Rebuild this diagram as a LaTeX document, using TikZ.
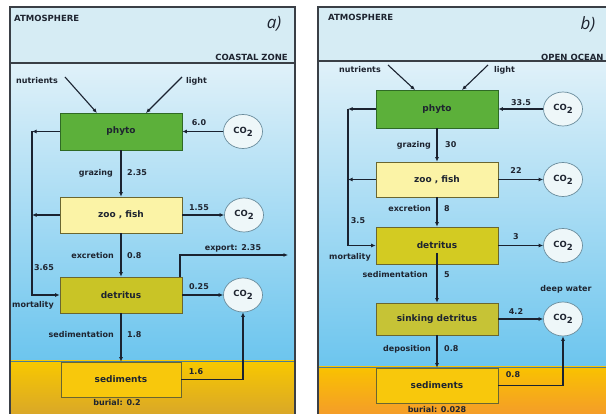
\documentclass[tikz,border=0pt]{standalone}
\usepackage{fontspec}
\setmainfont{DejaVu Sans}
\newfontfamily\panelfont{Open Sans}
\usetikzlibrary{arrows.meta,shapes.geometric}
\definecolor{atm}{HTML}{D6ECF4}
\definecolor{watertop}{HTML}{E0F1F9}
\definecolor{watermid}{HTML}{ACDDF4}
\definecolor{waterbot}{HTML}{6CC5EE}
\definecolor{sedatop}{HTML}{F8C800}
\definecolor{sedabot}{HTML}{D6A42C}
\definecolor{sedbtop}{HTML}{F9C200}
\definecolor{sedbbot}{HTML}{F4982E}
\definecolor{framec}{HTML}{3A3F46}
\definecolor{txt}{HTML}{1E2430}
\definecolor{arr}{HTML}{1A2230}
\definecolor{phyc}{HTML}{5CB03A}
\definecolor{phyedge}{HTML}{2F6A25}
\definecolor{zooc}{HTML}{FBF3A6}
\definecolor{detc}{HTML}{C9C426}
\definecolor{detbc}{HTML}{D3CB22}
\definecolor{sinkc}{HTML}{C6C336}
\definecolor{sedc}{HTML}{F8C80C}
\definecolor{boxedge}{HTML}{6A6630}
\definecolor{co2fill}{HTML}{EEF7F9}
\definecolor{co2edge}{HTML}{6A8C9C}
\definecolor{seaedge}{HTML}{4C7E94}
\tikzset{
  box/.style={draw=boxedge, line width=0.6pt, minimum width=122pt, minimum height=36pt,
    inner sep=0pt, font=\fontsize{9}{10}\selectfont\bfseries, text=txt},
  co2/.style={ellipse, draw=co2edge, fill=co2fill, line width=0.7pt, minimum width=39pt,
    minimum height=34pt, inner sep=0pt, font=\fontsize{8.5}{9}\selectfont\bfseries, text=txt},
  flow/.style={draw=arr, line width=1.1pt, -{Latex[length=4.5pt,width=4pt]}},
  lbl/.style={font=\fontsize{8}{9}\selectfont\bfseries, text=txt, inner sep=0pt},
  head/.style={font=\fontsize{8.5}{9}\selectfont\bfseries, text=txt, inner sep=0pt},
  panel/.style={font=\panelfont\itshape\fontsize{17}{18}\selectfont, text=txt, inner sep=0pt},
  frame/.style={draw=framec, line width=1.2pt}
}
\newcommand{\cotwo}{CO\raisebox{-3pt}{2}}
\begin{document}
\begin{tikzpicture}[x=1pt,y=-1pt]
\useasboundingbox (0,0) rectangle (606,414);
\clip (0,0) rectangle (606,414);
\fill[white] (0,0) rectangle (606,414);
% ---------------- panel a background
\fill[atm] (10,7) rectangle (295,63);
\shade[top color=watertop, middle color=watermid, bottom color=waterbot] (10,63) rectangle (295,361);
\shade[top color=sedatop, bottom color=sedabot] (10,361) rectangle (295,420);
\draw[seaedge, line width=0.6pt] (10,361) -- (295,361);
\draw[frame] (10,63) -- (295,63);
\draw[frame] (10,420) -- (10,7) -- (295,7) -- (295,420);
% ---------------- panel b background
\fill[atm] (318,7) rectangle (620,61);
\shade[top color=watertop, middle color=watermid, bottom color=waterbot] (318,61) rectangle (620,367);
\shade[top color=sedbtop, bottom color=sedbbot] (318,367) rectangle (620,420);
\draw[seaedge, line width=0.6pt] (318,367) -- (620,367);
\draw[frame] (318,61) -- (620,61);
\draw[frame] (318,420) -- (318,7) -- (620,7);
% ---------------- headings
\node[head, anchor=west] (atmA) at (14,18) {ATMOSPHERE};
\node[panel] (pa) at (274,24) {a)};
\node[head, anchor=east] (czA) at (288,57) {COASTAL ZONE};
\node[head, anchor=west] (atmB) at (328,17) {ATMOSPHERE};
\node[panel] (pb) at (588,24) {b)};
\node[head, anchor=west] (ooB) at (541,57) {OPEN OCEAN};
% ================= panel a nodes
\node[box, fill=phyc, draw=phyedge, minimum height=37pt] (phyA) at (121,131.5) {phyto};
\node[box, fill=zooc] (zooA) at (121,215) {zoo , fish};
\node[box, fill=detc] (detA) at (121,295) {detritus};
\node[box, fill=sedc, minimum width=120pt, minimum height=35pt] (sedA) at (121,379.5) {sediments};
\node[co2] (c1a) at (243,131.5) {\cotwo};
\node[co2] (c2a) at (244,215) {\cotwo};
\node[co2] (c3a) at (243,295) {\cotwo};
% inputs
\node[lbl, anchor=east] (nutA) at (58,81) {nutrients};
\node[lbl, anchor=west] (ligA) at (186,81) {light};
\coordinate (nA0) at (65,77); \coordinate (nA1) at (97,113);
\coordinate (lA0) at (182,77); \coordinate (lA1) at (146,113);
\draw[flow] (nA0) -- (nA1);
\draw[flow] (lA0) -- (lA1);
% flows
\draw[flow] (c1a) -- (phyA);
\node[lbl] (v60) at (199,123) {6.0};
\draw[flow] (phyA) -- (zooA);
\node[lbl, anchor=east] (grA) at (113,173) {grazing};
\node[lbl, anchor=west] (grAv) at (127,173) {2.35};
\draw[flow] (zooA) -- (c2a);
\node[lbl] (v155) at (199,208) {1.55};
\draw[flow] (zooA) -- (detA);
\node[lbl, anchor=east] (exA) at (114,256) {excretion};
\node[lbl, anchor=west] (exAv) at (127,256) {0.8};
\draw[flow] (detA) -- (c3a);
\node[lbl] (v025) at (199,287) {0.25};
\coordinate (xA0) at (180,277); \coordinate (xA1) at (288,255);
\draw[flow] (xA0) |- (xA1);
\node[lbl] (expA) at (233,248) {export: 2.35};
\draw[flow] (detA) -- (sedA);
\node[lbl, anchor=east] (sdA) at (114,335) {sedimentation};
\node[lbl, anchor=west] (sdAv) at (127,335) {1.8};
\draw[flow] (sedA.east) -| (c3a.south);
\node[lbl] (v16) at (196,372) {1.6};
\node[lbl] (burA) at (117,403) {burial: 0.2};
% mortality loop
\coordinate (lxA) at (32,0);
\draw[flow] (phyA.west) -- (phyA.west -| lxA);
\draw[flow] (zooA.west) -- (zooA.west -| lxA);
\draw[flow] (phyA.west -| lxA) |- (detA.west);
\node[lbl] (v365) at (44,268) {3.65};
\node[lbl] (morA) at (33,305) {mortality};
% ================= panel b nodes
\node[box, fill=phyc, draw=phyedge, minimum height=38pt] (phyB) at (437,109) {phyto};
\node[box, fill=zooc, minimum height=35pt] (zooB) at (437,179.5) {zoo , fish};
\node[box, fill=detbc, minimum height=37pt] (detB) at (437,245.5) {detritus};
\node[box, fill=sinkc, minimum height=32pt] (sinkB) at (437,319) {sinking detritus};
\node[box, fill=sedc, minimum height=35pt] (sedB) at (437,385.5) {sediments};
\node[co2] (c1b) at (563,109) {\cotwo};
\node[co2] (c2b) at (563,179.5) {\cotwo};
\node[co2] (c3b) at (563,245.5) {\cotwo};
\node[co2] (c4b) at (563,319) {\cotwo};
\node[lbl] (dwB) at (566,289) {deep water};
% inputs
\node[lbl, anchor=east] (nutB) at (381,70) {nutrients};
\node[lbl, anchor=west] (ligB) at (494,70) {light};
\coordinate (nB0) at (388,65); \coordinate (nB1) at (415,90);
\coordinate (lB0) at (488,65); \coordinate (lB1) at (462,90);
\draw[flow] (nB0) -- (nB1);
\draw[flow] (lB0) -- (lB1);
% flows
\draw[flow] (c1b) -- (phyB);
\node[lbl] (v335) at (521,103) {33.5};
\draw[flow] (phyB) -- (zooB);
\node[lbl, anchor=east] (grB) at (431,145) {grazing};
\node[lbl, anchor=west] (grBv) at (445,145) {30};
\draw[flow] (zooB) -- (c2b);
\node[lbl] (v22) at (516,171) {22};
\draw[flow] (zooB) -- (detB);
\node[lbl, anchor=east] (exB) at (431,209) {excretion};
\node[lbl, anchor=west] (exBv) at (444,209) {8};
\draw[flow] (detB) -- (c3b);
\node[lbl] (v3) at (516,237) {3};
\coordinate (sdB0) at (437,253);
\draw[flow] (sdB0) -- (sinkB.north);
\node[lbl, anchor=east] (sdB) at (428,275) {sedimentation};
\node[lbl, anchor=west] (sdBv) at (444,275) {5};
\draw[flow] (sinkB) -- (c4b);
\node[lbl] (v42) at (516,312) {4.2};
\draw[flow] (sinkB) -- (sedB);
\node[lbl, anchor=east] (dpB) at (431,349) {deposition};
\node[lbl, anchor=west] (dpBv) at (444,349) {0.8};
\draw[flow] (sedB.east) -| (c4b.south);
\node[lbl] (v08) at (513,375) {0.8};
\node[lbl] (burB) at (437,410) {burial: 0.028};
% mortality loop
\coordinate (lxB) at (348,0);
\draw[flow] (phyB.west) -- (phyB.west -| lxB);
\draw[flow] (zooB.west) -- (zooB.west -| lxB);
\draw[flow] (phyB.west -| lxB) |- (detB.west);
\node[lbl] (v35) at (358,221) {3.5};
\node[lbl] (morB) at (350,257) {mortality};
\end{tikzpicture}
\end{document}
